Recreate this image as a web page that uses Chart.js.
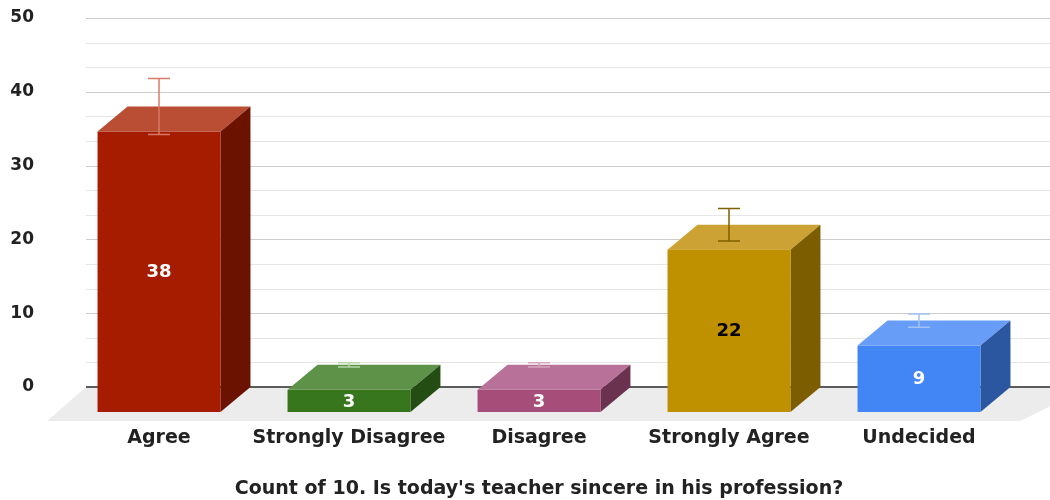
<!DOCTYPE html>
<html>
<head>
<meta charset="utf-8">
<script src="https://cdn.jsdelivr.net/npm/chart.js@4.4.1/dist/chart.umd.min.js"></script>
<style>
  html, body { margin: 0; padding: 0; background: #fff; }
  #wrap { width: 1050px; height: 500px; }
</style>
</head>
<body>
<div id="wrap"><canvas id="chart" width="1050" height="500"></canvas></div>
<script>
const categories = ["Agree", "Strongly Disagree", "Disagree", "Strongly Agree", "Undecided"];
const counts = [38, 3, 3, 22, 9];
const errors = [3.8, 0.3, 0.3, 2.2, 0.9];
const yTicks = [0, 10, 20, 30, 40, 50];
const axisTitle = "Count of 10. Is today's teacher sincere in his profession?";

// colours: front, top, side, error bar, label
const frontColors = ["#a61c00", "#38761d", "#a64d79", "#bf9000", "#4285f4"];
const topColors = ["#b94e34", "#5f9249", "#b8729a", "#cba233", "#679df6"];
const sideColors = ["#6b1300", "#244d13", "#6b3250", "#7c5e00", "#2b57a0"];
const errColors = ["#d77a66", "#b6d7a8", "#d5a6bd", "#7f6000", "#a4c2f4"];
const labelColors = ["#fff", "#fff", "#fff", "#000", "#fff"];

const FONT = "'DejaVu Sans', 'Liberation Sans', Arial, sans-serif";
const DX = 30, DY = 25; // depth offset of the bars

const box3d = {
  id: "box3d",
  beforeDatasetsDraw(chart) {
    const { ctx, chartArea } = chart;
    const y = chart.scales.y;
    const y0 = y.getPixelForValue(0);
    const gl = chartArea.left + 22, gr = 1050;
    ctx.save();
    // grid lines, two minor lines between every labelled tick
    for (let i = 0; i < yTicks.length; i++) {
      const v = yTicks[i];
      if (v !== 0) {
        ctx.strokeStyle = "#cccccc";
        ctx.lineWidth = 1;
        const py = Math.round(y.getPixelForValue(v)) + 0.5;
        ctx.beginPath(); ctx.moveTo(gl, py); ctx.lineTo(gr, py); ctx.stroke();
      }
      if (i < yTicks.length - 1) {
        const step = (yTicks[i + 1] - v) / 3;
        ctx.strokeStyle = "#e6e6e6";
        for (let k = 1; k < 3; k++) {
          const py = Math.round(y.getPixelForValue(v + step * k)) + 0.5;
          ctx.beginPath(); ctx.moveTo(gl, py); ctx.lineTo(gr, py); ctx.stroke();
        }
      }
    }
    // floor
    ctx.fillStyle = "#ececec";
    ctx.beginPath();
    ctx.moveTo(gl, y0);
    ctx.lineTo(gr + 40, y0);
    ctx.lineTo(gr - 30, y0 + 34);
    ctx.lineTo(gl - 39, y0 + 34);
    ctx.closePath();
    ctx.fill();
    // zero line
    ctx.strokeStyle = "#5b5b5b";
    ctx.lineWidth = 2;
    ctx.beginPath(); ctx.moveTo(gl, y0); ctx.lineTo(gr, y0); ctx.stroke();

    // boxes
    const meta = chart.getDatasetMeta(0);
    meta.data.forEach((bar, i) => {
      const w = bar.width;
      const fl = bar.x - w / 2, fr = bar.x + w / 2;
      const ft = y.getPixelForValue(counts[i]) + DY;
      const fb = y0 + DY;
      ctx.fillStyle = topColors[i];
      ctx.beginPath();
      ctx.moveTo(fl, ft); ctx.lineTo(fl + DX, ft - DY);
      ctx.lineTo(fr + DX, ft - DY); ctx.lineTo(fr, ft);
      ctx.closePath(); ctx.fill();
      ctx.fillStyle = sideColors[i];
      ctx.beginPath();
      ctx.moveTo(fr, ft); ctx.lineTo(fr + DX, ft - DY);
      ctx.lineTo(fr + DX, fb - DY); ctx.lineTo(fr, fb);
      ctx.closePath(); ctx.fill();
      ctx.fillStyle = frontColors[i];
      ctx.fillRect(fl, ft, w, fb - ft);

      // error bar
      const hi = y.getPixelForValue(counts[i] + errors[i]);
      const lo = y.getPixelForValue(counts[i] - errors[i]);
      ctx.strokeStyle = errColors[i];
      ctx.lineWidth = 1.5;
      ctx.beginPath();
      ctx.moveTo(bar.x, hi); ctx.lineTo(bar.x, lo);
      ctx.moveTo(bar.x - 11, hi); ctx.lineTo(bar.x + 11, hi);
      ctx.moveTo(bar.x - 11, lo); ctx.lineTo(bar.x + 11, lo);
      ctx.stroke();

      // value label
      ctx.fillStyle = labelColors[i];
      ctx.font = "bold 18px " + FONT;
      ctx.textAlign = "center";
      ctx.textBaseline = "middle";
      ctx.fillText(String(counts[i]), bar.x, (ft + fb) / 2 + 1);
    });
    ctx.restore();
  }
};

new Chart(document.getElementById("chart"), {
  type: "bar",
  data: {
    labels: categories,
    datasets: [{
      data: counts,
      backgroundColor: "rgba(0,0,0,0)",
      borderWidth: 0,
      categoryPercentage: 1,
      barPercentage: 0.647
    }]
  },
  options: {
    responsive: false,
    animation: false,
    devicePixelRatio: 1,
    layout: { padding: { top: 0, right: 36, left: 0, bottom: 0 } },
    plugins: { legend: { display: false }, tooltip: { enabled: false } },
    scales: {
      x: {
        grid: { display: false },
        border: { display: false },
        afterFit(scale) { scale.height = 113; },
        ticks: {
          padding: 32,
          maxRotation: 0,
          minRotation: 0,
          autoSkip: false,
          color: "#222",
          font: { family: FONT, size: 19, weight: "bold" }
        },
        title: {
          display: true,
          text: axisTitle,
          color: "#222",
          padding: { top: 0, bottom: 0 },
          font: { family: FONT, size: 19, weight: "bold" }
        }
      },
      y: {
        min: 0,
        max: 50,
        grid: { display: false, drawTicks: false },
        border: { display: false },
        afterFit(scale) {
          scale.width = 64;
          scale.paddingTop = 18;
          scale.paddingBottom = 0;
        },
        afterBuildTicks(scale) { scale.ticks = yTicks.map(v => ({ value: v })); },
        ticks: {
          padding: 30,
          color: "#222",
          font: { family: FONT, size: 17, weight: "bold" }
        }
      }
    }
  },
  plugins: [box3d]
});
</script>
</body>
</html>
